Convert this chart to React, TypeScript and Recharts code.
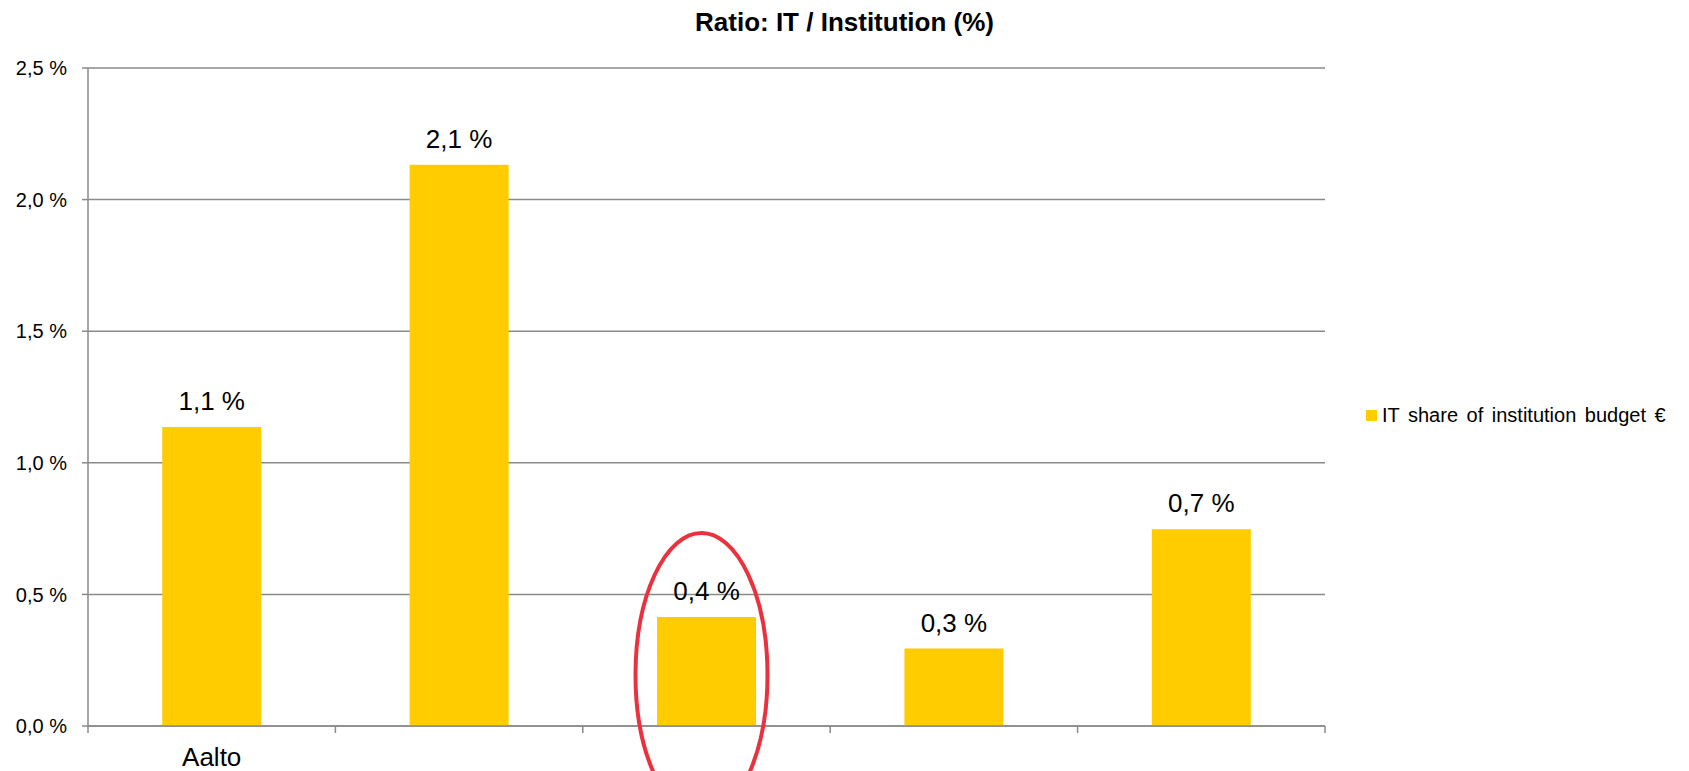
import React from 'react';
import { BarChart, Bar, XAxis, YAxis, CartesianGrid, LabelList, Legend, ReferenceDot } from 'recharts';

// ---- data ----
const categories = ['Aalto', '', ' ', '  ', '   '];
const itShare = [1.136, 2.132, 0.414, 0.294, 0.748];
const yTicks = [0, 0.5, 1, 1.5, 2, 2.5];
const seriesName = 'IT share of institution budget €';
const chartTitle = 'Ratio: IT / Institution (%)';
const highlightIndex = 2;
const highlightCenterValue = 0.194;

const data = categories.map((c, i) => ({ name: c, value: itShare[i] }));

const FONT = '"Liberation Sans", Arial, Helvetica, sans-serif';
const GRID = '#8a8a8a';
const BAR = '#FFCC00';
const RED = '#E9323E';

const fmt = (v: any) => Number(v).toFixed(1).replace('.', ',') + ' %';

const CategoryTick = (props: any) => {
  const { x, y, payload, index, width, visibleTicksCount } = props;
  const half =
    payload && typeof payload.offset === 'number' && payload.offset > 0
      ? payload.offset
      : width / (visibleTicksCount || categories.length) / 2;
  const last = index === categories.length - 1;
  return (
    <g>
      <line x1={x - half} x2={x - half} y1={y} y2={y + 7} stroke={GRID} strokeWidth={1.5} />
      {last && <line x1={x + half} x2={x + half} y1={y} y2={y + 7} stroke={GRID} strokeWidth={1.5} />}
      <text x={x} y={y + 22} dy="0.71em" textAnchor="middle" fontSize={26} fill="#000" fontFamily={FONT}>
        {payload.value}
      </text>
    </g>
  );
};

const LegendContent = () => (
  <div
    style={{
      display: 'flex',
      alignItems: 'center',
      fontSize: 20,
      lineHeight: '23px',
      fontFamily: FONT,
      wordSpacing: '3px',
      whiteSpace: 'nowrap',
      color: '#000',
    }}
  >
    <span style={{ display: 'inline-block', width: 11, height: 11, background: BAR, marginRight: 5 }} />
    <span>{seriesName}</span>
  </div>
);

const HighlightEllipse = (props: any) => {
  const { cx, cy } = props;
  return <ellipse cx={cx - 5} cy={cy} rx={66} ry={142} fill="none" stroke={RED} strokeWidth={4} />;
};

export default function App() {
  return (
    <div style={{ position: 'absolute', left: 0, top: 0, width: 1689, height: 771, background: '#fff', fontFamily: FONT }}>
      <div
        style={{
          position: 'absolute',
          left: 0,
          top: 9,
          width: 1689,
          textAlign: 'center',
          fontSize: 26,
          lineHeight: '26px',
          fontWeight: 'bold',
          color: '#000',
          fontFamily: FONT,
        }}
      >
        {chartTitle}
      </div>
      <BarChart
        width={1689}
        height={771}
        data={data}
        margin={{ top: 68, right: 364, bottom: 0, left: 0 }}
        barCategoryGap="30%"
        style={{ fontFamily: FONT }}
      >
        <CartesianGrid vertical={false} stroke={GRID} strokeWidth={1.5} />
        <YAxis
          type="number"
          domain={[0, 2.5]}
          ticks={yTicks}
          interval={0}
          width={88}
          tickSize={6}
          tickMargin={15}
          tickFormatter={fmt}
          axisLine={{ stroke: GRID, strokeWidth: 1.5 }}
          tickLine={{ stroke: GRID, strokeWidth: 1.5 }}
          tick={{ fontSize: 20, fill: '#000', fontFamily: FONT }}
        />
        <XAxis
          dataKey="name"
          type="category"
          height={45}
          interval={0}
          tickLine={false}
          tickSize={0}
          tickMargin={0}
          axisLine={{ stroke: GRID, strokeWidth: 1.5 }}
          tick={<CategoryTick />}
        />
        <Legend
          layout="horizontal"
          align="center"
          verticalAlign="middle"
          content={<LegendContent />}
          wrapperStyle={{ left: 1366, top: 404, width: 320, height: 23 }}
        />
        <Bar dataKey="value" name={seriesName} fill={BAR} isAnimationActive={false}>
          <LabelList
            dataKey="value"
            position="top"
            offset={17}
            formatter={fmt}
            style={{ fontSize: 26, fill: '#000', fontFamily: FONT }}
          />
        </Bar>
        <ReferenceDot
          x={categories[highlightIndex]}
          y={highlightCenterValue}
          r={1}
          ifOverflow="visible"
          shape={<HighlightEllipse />}
        />
      </BarChart>
    </div>
  );
}
